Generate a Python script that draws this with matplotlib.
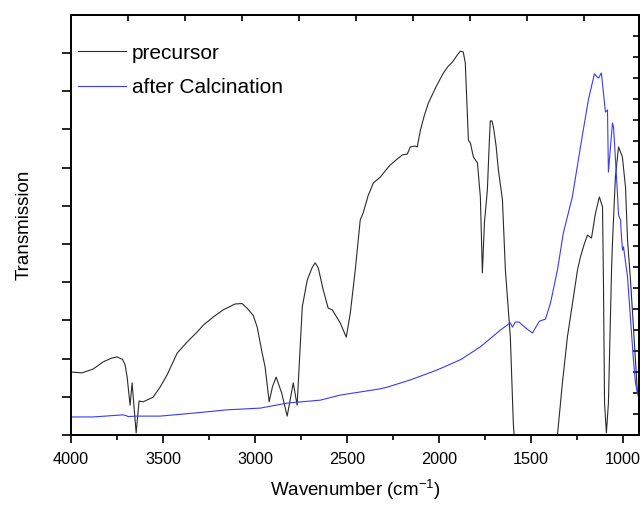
import matplotlib
matplotlib.use("Agg")
import matplotlib.pyplot as plt
import numpy as np

plt.rcParams['font.family'] = ['Liberation Sans', 'DejaVu Sans']
plt.rcParams['mathtext.fontset'] = 'custom'
plt.rcParams['mathtext.rm'] = 'Liberation Sans'
plt.rcParams['mathtext.it'] = 'Liberation Sans'

# Wavenumber (cm-1) and transmission (arbitrary units, 0-100)
precursor_wn = [4000, 3940, 3880, 3826, 3780, 3750, 3720, 3706, 3695, 3679, 3668, 3646,
                3630, 3608, 3554, 3516, 3478, 3423, 3370, 3315, 3280, 3227, 3173, 3108,
                3070, 3043, 3010, 2988, 2961, 2945, 2923, 2905, 2885, 2855, 2825, 2792,
                2771, 2743, 2716, 2690, 2673, 2656, 2629, 2602, 2580, 2537, 2504, 2482,
                2455, 2428, 2412, 2385, 2357, 2319, 2290, 2265, 2230, 2199, 2172, 2156,
                2129, 2118, 2101, 2080, 2058, 2015, 1976, 1950, 1927, 1900, 1884, 1868,
                1857, 1840, 1829, 1813, 1791, 1775, 1764, 1753, 1737, 1726, 1721, 1712,
                1704, 1690, 1677, 1655, 1639, 1612, 1596, 1580, 1540, 1480, 1420, 1375,
                1356, 1330, 1302, 1247, 1231, 1210, 1193, 1171, 1149, 1128, 1111, 1106,
                1100, 1090, 1079, 1062, 1057, 1041, 1024, 1003, 986, 975, 959, 943, 921,
                905]
precursor_t = [15.0, 14.8, 15.7, 17.4, 18.3, 18.6, 18.0, 16.7, 13.8, 7.1, 12.4, 0.5,
               8.1, 7.9, 9.0, 11.4, 14.3, 19.5, 22.1, 24.5, 26.2, 28.1, 29.8, 31.2,
               31.3, 30.2, 28.5, 25.7, 19.5, 16.2, 7.9, 11.5, 13.8, 10.0, 4.5, 12.4,
               7.1, 30.5, 36.9, 39.8, 41.0, 39.8, 34.5, 30.2, 29.8, 26.7, 23.3, 29.0,
               39.3, 51.2, 52.9, 57.0, 60.0, 61.4, 63.0, 64.3, 65.6, 66.7, 66.9, 68.6,
               68.8, 68.6, 72.6, 76.0, 79.0, 83.0, 86.2, 87.8, 88.8, 90.5, 91.4, 91.2,
               88.6, 70.2, 69.5, 66.2, 64.8, 56.7, 38.6, 50.5, 58.3, 70.2, 74.8, 74.8,
               73.3, 69.0, 63.1, 56.0, 39.3, 23.3, 2.9, -8.0, -30.0, -45.0, -35.0, -8.0,
               0.0, 12.0, 23.3, 39.3, 42.4, 45.5, 47.6, 46.9, 52.9, 56.7, 54.3, 36.9,
               7.6, 0.5, 7.6, 39.3, 45.7, 61.4, 68.6, 66.2, 59.0, 46.4, 36.9, 25.7, 10.0,
               9.0]

calcined_wn = [4000, 3880, 3717, 3700, 3690, 3641, 3516, 3336, 3151, 2972, 2825, 2645, 2537,
               2319, 2281, 2150, 2009, 1880, 1775, 1720, 1666, 1612, 1601, 1585, 1565,
               1547, 1520, 1492, 1476, 1454, 1421, 1394, 1356, 1324, 1275, 1231, 1188,
               1155, 1139, 1133, 1117, 1106, 1095, 1084, 1079, 1057, 1051, 1030, 1024,
               1013, 1008, 1002, 997, 975, 943, 932, 921, 905]
calcined_t = [4.3, 4.3, 4.8, 4.6, 4.4, 4.5, 4.5, 5.2, 6.0, 6.4, 7.6, 8.3, 9.5,
              11.0, 11.4, 13.2, 15.5, 18.0, 21.0, 23.0, 25.0, 26.7, 25.7, 26.9, 26.9,
              26.2, 25.2, 24.3, 25.5, 27.1, 27.6, 31.4, 39.3, 48.1, 56.7, 68.6, 79.8,
              86.0, 85.2, 85.0, 86.2, 81.4, 76.9, 77.4, 62.6, 74.3, 73.3, 57.6, 52.4,
              51.2, 47.1, 44.0, 44.8, 37.6, 17.9, 12.4, 10.0, 7.1]

series_labels = ["precursor", "after Calcination"]
x_major = [4000, 3500, 3000, 2500, 2000, 1500, 1000]

fig = plt.figure(figsize=(6.41, 5.05), dpi=100)
ax = fig.add_axes([0.1108, 0.1386, 0.886, 0.8316])

ax.plot(precursor_wn, precursor_t, color="#2b2b2b", lw=0.8, label=series_labels[0])
ax.plot(calcined_wn, calcined_t, color="#3a3af5", lw=0.8, label=series_labels[1])

ax.set_xlim(4000, 913)
ax.set_ylim(0, 100)

ax.set_xticks(x_major)
ax.set_xticklabels([str(v) for v in x_major], fontsize=11.7)
ax.set_xticks(np.arange(3750, 900, -500), minor=True)
ax.tick_params(axis='x', which='major', direction='out', length=6, width=1.2, pad=6)
ax.tick_params(axis='x', which='minor', direction='out', length=3.5, width=1.2)

ax.set_yticks(np.arange(11) * 9.095)
ax.set_yticklabels([])
ax.tick_params(axis='y', which='major', direction='out', length=6.5, width=1.2)

# secondary tick marks on top and right
axt = ax.secondary_xaxis('top')
axt.set_xticks([4000 - 310 * k for k in range(1, 10)])
axt.set_xticklabels([])
axt.tick_params(direction='in', length=4, width=1.2)
axt.spines['top'].set_linewidth(1.4)

axr = ax.secondary_yaxis('right')
axr.set_yticks(np.arange(5, 100, 5))
axr.set_yticklabels([])
axr.tick_params(direction='in', length=4, width=1.2)
axr.spines['right'].set_linewidth(1.4)

for s in ax.spines.values():
    s.set_linewidth(1.4)

ax.set_xlabel("Wavenumber (cm$^{-1}$)", fontsize=13.5, labelpad=8)
ax.set_ylabel("Transmission", fontsize=13.5, labelpad=18)

ax.legend(loc='upper left', bbox_to_anchor=(0.012, 0.932), frameon=False,
          fontsize=15, handlelength=2.3, handletextpad=0.3, labelspacing=0.75,
          borderpad=0, borderaxespad=0)

fig.savefig("out.png", dpi=100)
